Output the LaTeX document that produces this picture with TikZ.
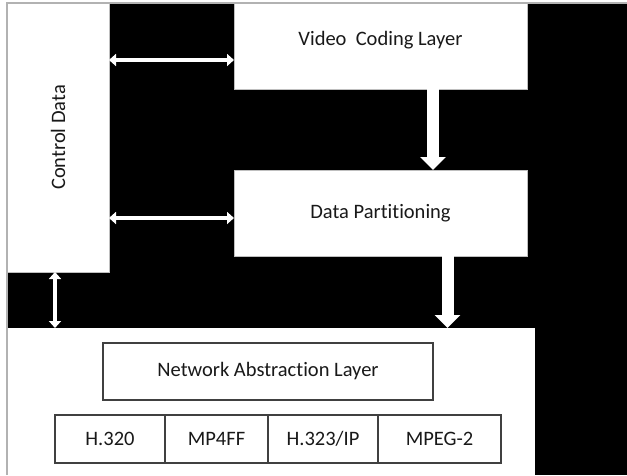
\documentclass[tikz,border=0pt]{standalone}
\usepackage{fontspec}
\setmainfont{Carlito}[Ligatures=CommonOff]
\usetikzlibrary{positioning, arrows.meta}

\begin{document}
\begin{tikzpicture}[x=1pt, y=-1pt, font=\fontsize{20.5}{24}\selectfont,
    layer/.style={fill=white, draw=gray!50, line width=0.6pt, text=black!90,
                  inner sep=0pt, outer sep=0pt},
    cell/.style={draw=black!75, line width=1.2pt, fill=white, text=black!90,
                 inner sep=0pt, outer sep=0pt, minimum height=48pt},
    dbl/.style={draw=white, line width=4pt,
                {Triangle[width=12pt,length=7pt]}-{Triangle[width=12pt,length=7pt]}},
    flow/.style={draw=white, line width=12pt, -{Triangle[width=25pt,length=13pt]}}]
  \useasboundingbox (0,0) rectangle (627,475);
  \fill[white] (0,0) rectangle (627,475);
  \fill[black] (7,3) rectangle (627,475);

  % layers
  \node[layer, minimum width=102pt, minimum height=269pt] (ctrl) at (58,137.5)
    {\rotatebox{90}{Control Data}};
  \node[layer, minimum width=293pt, minimum height=86pt] (vcl) at (380.5,46) {};
  \node[text=black!90] at ([yshift=6pt]vcl.center) {Video\ \ Coding Layer};
  \node[layer, minimum width=293pt, minimum height=86pt] (dp) at (380.5,213)
    {Data Partitioning};
  \node[layer, draw=none, minimum width=528pt, minimum height=147pt] (base) at (271,401.5) {};

  % network side
  \node[cell, minimum width=330pt, minimum height=57pt] (nal) at (268,371.5)
    {Network Abstraction Layer};
  \node[cell, minimum width=110pt] (h320) at (110,439) {H.320};
  \node[cell, minimum width=103pt, right=0pt of h320] (mp4ff) {MP4FF};
  \node[cell, minimum width=110pt, right=0pt of mp4ff] (h323) {H.323/IP};
  \node[cell, minimum width=123pt, right=0pt of h323] (mpeg) {MPEG-2};

  % connectors
  \draw[dbl] ([yshift=-14pt]vcl.west -| ctrl.east) -- ([yshift=-14pt]vcl.west);
  \draw[dbl] ([yshift=-5pt]dp.west -| ctrl.east) -- ([yshift=-5pt]dp.west);
  \draw[dbl] ([xshift=-3pt]ctrl.south) -- ([xshift=-3pt]ctrl.south |- base.north);
  \draw[flow] ([xshift=52.5pt]vcl.south) -- ([xshift=52.5pt]dp.north);
  \draw[flow] ([xshift=67pt]dp.south) -- ([xshift=67pt]dp.south |- base.north);

  \draw[gray!60, line width=2pt] (7,475) -- (7,3) -- (627,3);
\end{tikzpicture}
\end{document}
